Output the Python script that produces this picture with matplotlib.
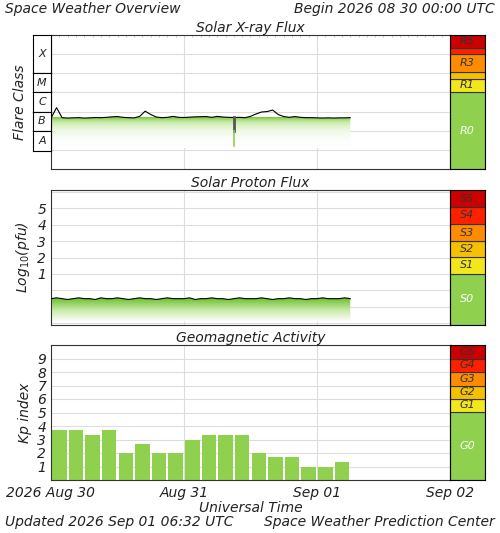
import matplotlib.pyplot as plt
import numpy as np
from matplotlib.colors import LinearSegmentedColormap

W, H = 500, 533
FONT = dict(family="DejaVu Sans", style="italic", color="#222222")

# X-ray flux, hourly from 2026-08-30 00:00 UTC (W/m^2)
xray_flux = [4.5e-7, 1.6e-6, 4.8e-7, 4.6e-7, 4.7e-7, 4.8e-7, 4.6e-7, 4.7e-7, 4.9e-7, 4.8e-7,
             5.0e-7, 5.3e-7, 5.5e-7, 5.0e-7, 4.8e-7, 4.7e-7, 5.6e-7, 1.05e-6, 7.0e-7, 5.2e-7,
             4.8e-7, 5.0e-7, 5.6e-7, 5.0e-7, 4.9e-7, 5.1e-7, 5.3e-7, 5.4e-7, 5.5e-7, 5.0e-7,
             5.6e-7, 5.2e-7, 5.0e-7, 4.9e-7, 5.0e-7, 4.8e-7, 5.6e-7, 7.5e-7, 9.5e-7, 1.0e-6,
             1.2e-6, 7.0e-7, 5.5e-7, 5.0e-7, 5.5e-7, 5.0e-7, 4.8e-7, 4.8e-7, 4.7e-7, 4.6e-7,
             4.7e-7, 4.6e-7, 4.7e-7, 4.7e-7, 4.8e-7]
xray_dip_hour = 33.0
# Proton flux, log10(pfu), hourly
proton_log = [-0.5, -0.45, -0.5, -0.55, -0.5, -0.45, -0.5, -0.5, -0.55, -0.45, -0.5, -0.5,
              -0.45, -0.5, -0.55, -0.5, -0.45, -0.5, -0.5, -0.55, -0.5, -0.45, -0.5, -0.5,
              -0.5, -0.45, -0.55, -0.5, -0.5, -0.45, -0.5, -0.5, -0.55, -0.5, -0.45, -0.5,
              -0.5, -0.5, -0.45, -0.5, -0.55, -0.5, -0.5, -0.45, -0.5, -0.5, -0.55, -0.5,
              -0.5, -0.45, -0.5, -0.5, -0.5, -0.45, -0.5]
# Kp, 3-hourly
kp = [3.67, 3.67, 3.33, 3.67, 2.0, 2.67, 2.0, 2.0, 3.0, 3.33, 3.33, 3.33, 2.0, 1.67, 1.67, 1.0, 1.0, 1.33]
day_labels = ["2026 Aug 30", "Aug 31", "Sep 01", "Sep 02"]

r_scale = [("R0", 92, 169, "#8fd14f"), ("R1", 79, 92, "#f2e61d"), ("R2", 72, 79, "#f5c000"),
           ("R3", 54, 72, "#ff8c00"), ("R4", 48, 54, "#ff2000"), ("R5", 35, 48, "#cc0000")]
s_scale = [("S0", 274, 325, "#8fd14f"), ("S1", 257, 274, "#f2e61d"), ("S2", 241, 257, "#f5c000"),
           ("S3", 224, 241, "#ff8c00"), ("S4", 207, 224, "#ff2000"), ("S5", 190, 207, "#cc0000")]
g_scale = [("G0", 412, 480, "#8fd14f"), ("G1", 399, 412, "#f2e61d"), ("G2", 386, 399, "#f5c000"),
           ("G3", 372, 386, "#ff8c00"), ("G4", 359, 372, "#ff2000"), ("G5", 345, 359, "#cc0000")]
flare_boxes = [("X", 35, 73), ("M", 73, 92), ("C", 92, 112), ("B", 112, 131), ("A", 131, 151)]

fig = plt.figure(figsize=(W / 100, H / 100), dpi=100)
fig.patch.set_facecolor("white")


def px_axes(x0, y0, x1, y1):
    return fig.add_axes([x0 / W, 1 - y1 / H, (x1 - x0) / W, (y1 - y0) / H])


def style(ax):
    for s in ax.spines.values():
        s.set_color("#333333")
    ax.set_xlim(0, 72)
    ax.set_xticks([0, 24, 48, 72])
    ax.set_xticklabels([])
    ax.tick_params(length=0)
    for xv in (24, 48):
        ax.axvline(xv, color="#dddddd", lw=0.8, zorder=0)


def side(y0, y1, scale):
    sa = px_axes(450, y0, 485, y1)
    sa.set_xlim(0, 1)
    sa.set_ylim(y1, y0)
    sa.set_xticks([]); sa.set_yticks([])
    for name, a, b, c in scale:
        sa.add_patch(plt.Rectangle((0, a), 1, b - a, facecolor=c, edgecolor="#333333", lw=0.8))
        if name not in ("R2", "R4"):
            col = "white" if name[1] == "0" else "#333333"
            sa.text(0.5, (a + b) / 2, name, ha="center", va="center", fontsize=8,
                    **{**FONT, "color": col})


green = LinearSegmentedColormap.from_list("g", ["#ffffff", "#c8eaa8", "#6cc02a"])
grad = np.linspace(0, 1, 200).reshape(-1, 1)

# --- X-ray panel
ax1 = px_axes(51, 35, 450, 169)
ax1.set_yscale("log")
hrs = np.arange(len(xray_flux), dtype=float)
flux = np.array(xray_flux)
poly = ax1.fill_between(hrs, flux, 1e-8, color="none", lw=0)
im = ax1.imshow(grad, cmap=green, aspect="auto", origin="lower",
                extent=(0, 72, 1.2e-8, 5e-7), zorder=1)
im.set_clip_path(poly.get_paths()[0], transform=ax1.transData)
ax1.set_yscale("log")
ax1.set_ylim(1e-9, 1e-2)
style(ax1)
ax1.set_yticks([])
ax1.minorticks_off()
ax1.set_yticks([], minor=True)
for v in (1e-8, 1e-7, 1e-6, 1e-5, 1e-4, 1e-3):
    ax1.axhline(v, color="#dddddd", lw=0.8, zorder=0)
for xv in np.arange(1.5, 72, 1.5):
    ax1.plot([xv, xv], [10 ** -2.12, 1e-2], color="#cccccc", lw=0.6)
ax1.plot(hrs, flux, color="black", lw=0.8, zorder=3)
ax1.plot([xray_dip_hour] * 2, [5e-7, 1e-7], color="#555555", lw=2, zorder=3)
ax1.plot([xray_dip_hour] * 2, [1e-7, 1.5e-8], color="#8fd14f", lw=1.2, zorder=3)
ax1.set_title("Solar X-ray Flux", fontsize=10, pad=2, **FONT)
for name, a, b in flare_boxes:
    ba = px_axes(33, a, 51, b)
    ba.set_xticks([]); ba.set_yticks([])
    ba.text(0.5, 0.5, name, ha="center", va="center", fontsize=8, transform=ba.transAxes, **FONT)
fig.text(20 / W, 1 - 102 / H, "Flare Class", rotation=90, ha="center", va="center", fontsize=10, **FONT)
side(35, 169, r_scale)

# --- Proton panel
ax2 = px_axes(51, 190, 450, 325)
ph = np.arange(len(proton_log), dtype=float)
p = np.array(proton_log)
poly = ax2.fill_between(ph, p, -1.9, color="none", lw=0)
im = ax2.imshow(grad, cmap=green, aspect="auto", origin="lower", extent=(0, 72, -1.9, -0.5), zorder=1)
im.set_clip_path(poly.get_paths()[0], transform=ax2.transData)
ax2.set_ylim(-2.1, 6.1)
style(ax2)
ax2.set_yticks([1, 2, 3, 4, 5])
ax2.set_yticklabels([1, 2, 3, 4, 5], fontsize=10, **FONT)
for v in range(-2, 7):
    ax2.axhline(v, color="#dddddd", lw=0.8, zorder=0)
ax2.plot(ph, p, color="black", lw=0.8, zorder=3)
ax2.set_title("Solar Proton Flux", fontsize=10, pad=2, **FONT)
ax2.set_ylabel("Log$_{10}$(pfu)", fontsize=10, labelpad=4, **FONT)
side(190, 325, s_scale)

# --- Kp panel
ax3 = px_axes(51, 345, 450, 480)
ax3.set_ylim(0, 10)
style(ax3)
for v in range(1, 10):
    ax3.axhline(v, color="#dddddd", lw=0.8, zorder=0)
ax3.bar(np.arange(len(kp)) * 3 + 1.5, kp, width=2.6, color="#8fd14f", zorder=2)
ax3.set_yticks(range(1, 10))
ax3.set_yticklabels(range(1, 10), fontsize=10, **FONT)
ax3.set_title("Geomagnetic Activity", fontsize=10, pad=2, **FONT)
ax3.set_ylabel("Kp index", fontsize=10, labelpad=4, **FONT)
ax3.set_xticklabels(day_labels, fontsize=10, **FONT)
ax3.tick_params(axis="x", pad=4)
side(345, 480, g_scale)
ax3.set_xlabel("Universal Time", fontsize=10, labelpad=1, **FONT)

fig.text(5 / W, 1 - 9 / H, "Space Weather Overview", fontsize=10, va="center", **FONT)
fig.text(495 / W, 1 - 9 / H, "Begin 2026 08 30 00:00 UTC", fontsize=10, va="center", ha="right", **FONT)
fig.text(5 / W, 1 - 522 / H, "Updated 2026 Sep 01 06:32 UTC", fontsize=10, va="center", **FONT)
fig.text(495 / W, 1 - 522 / H, "Space Weather Prediction Center", fontsize=10, va="center", ha="right", **FONT)

fig.savefig("out.png", dpi=100)
